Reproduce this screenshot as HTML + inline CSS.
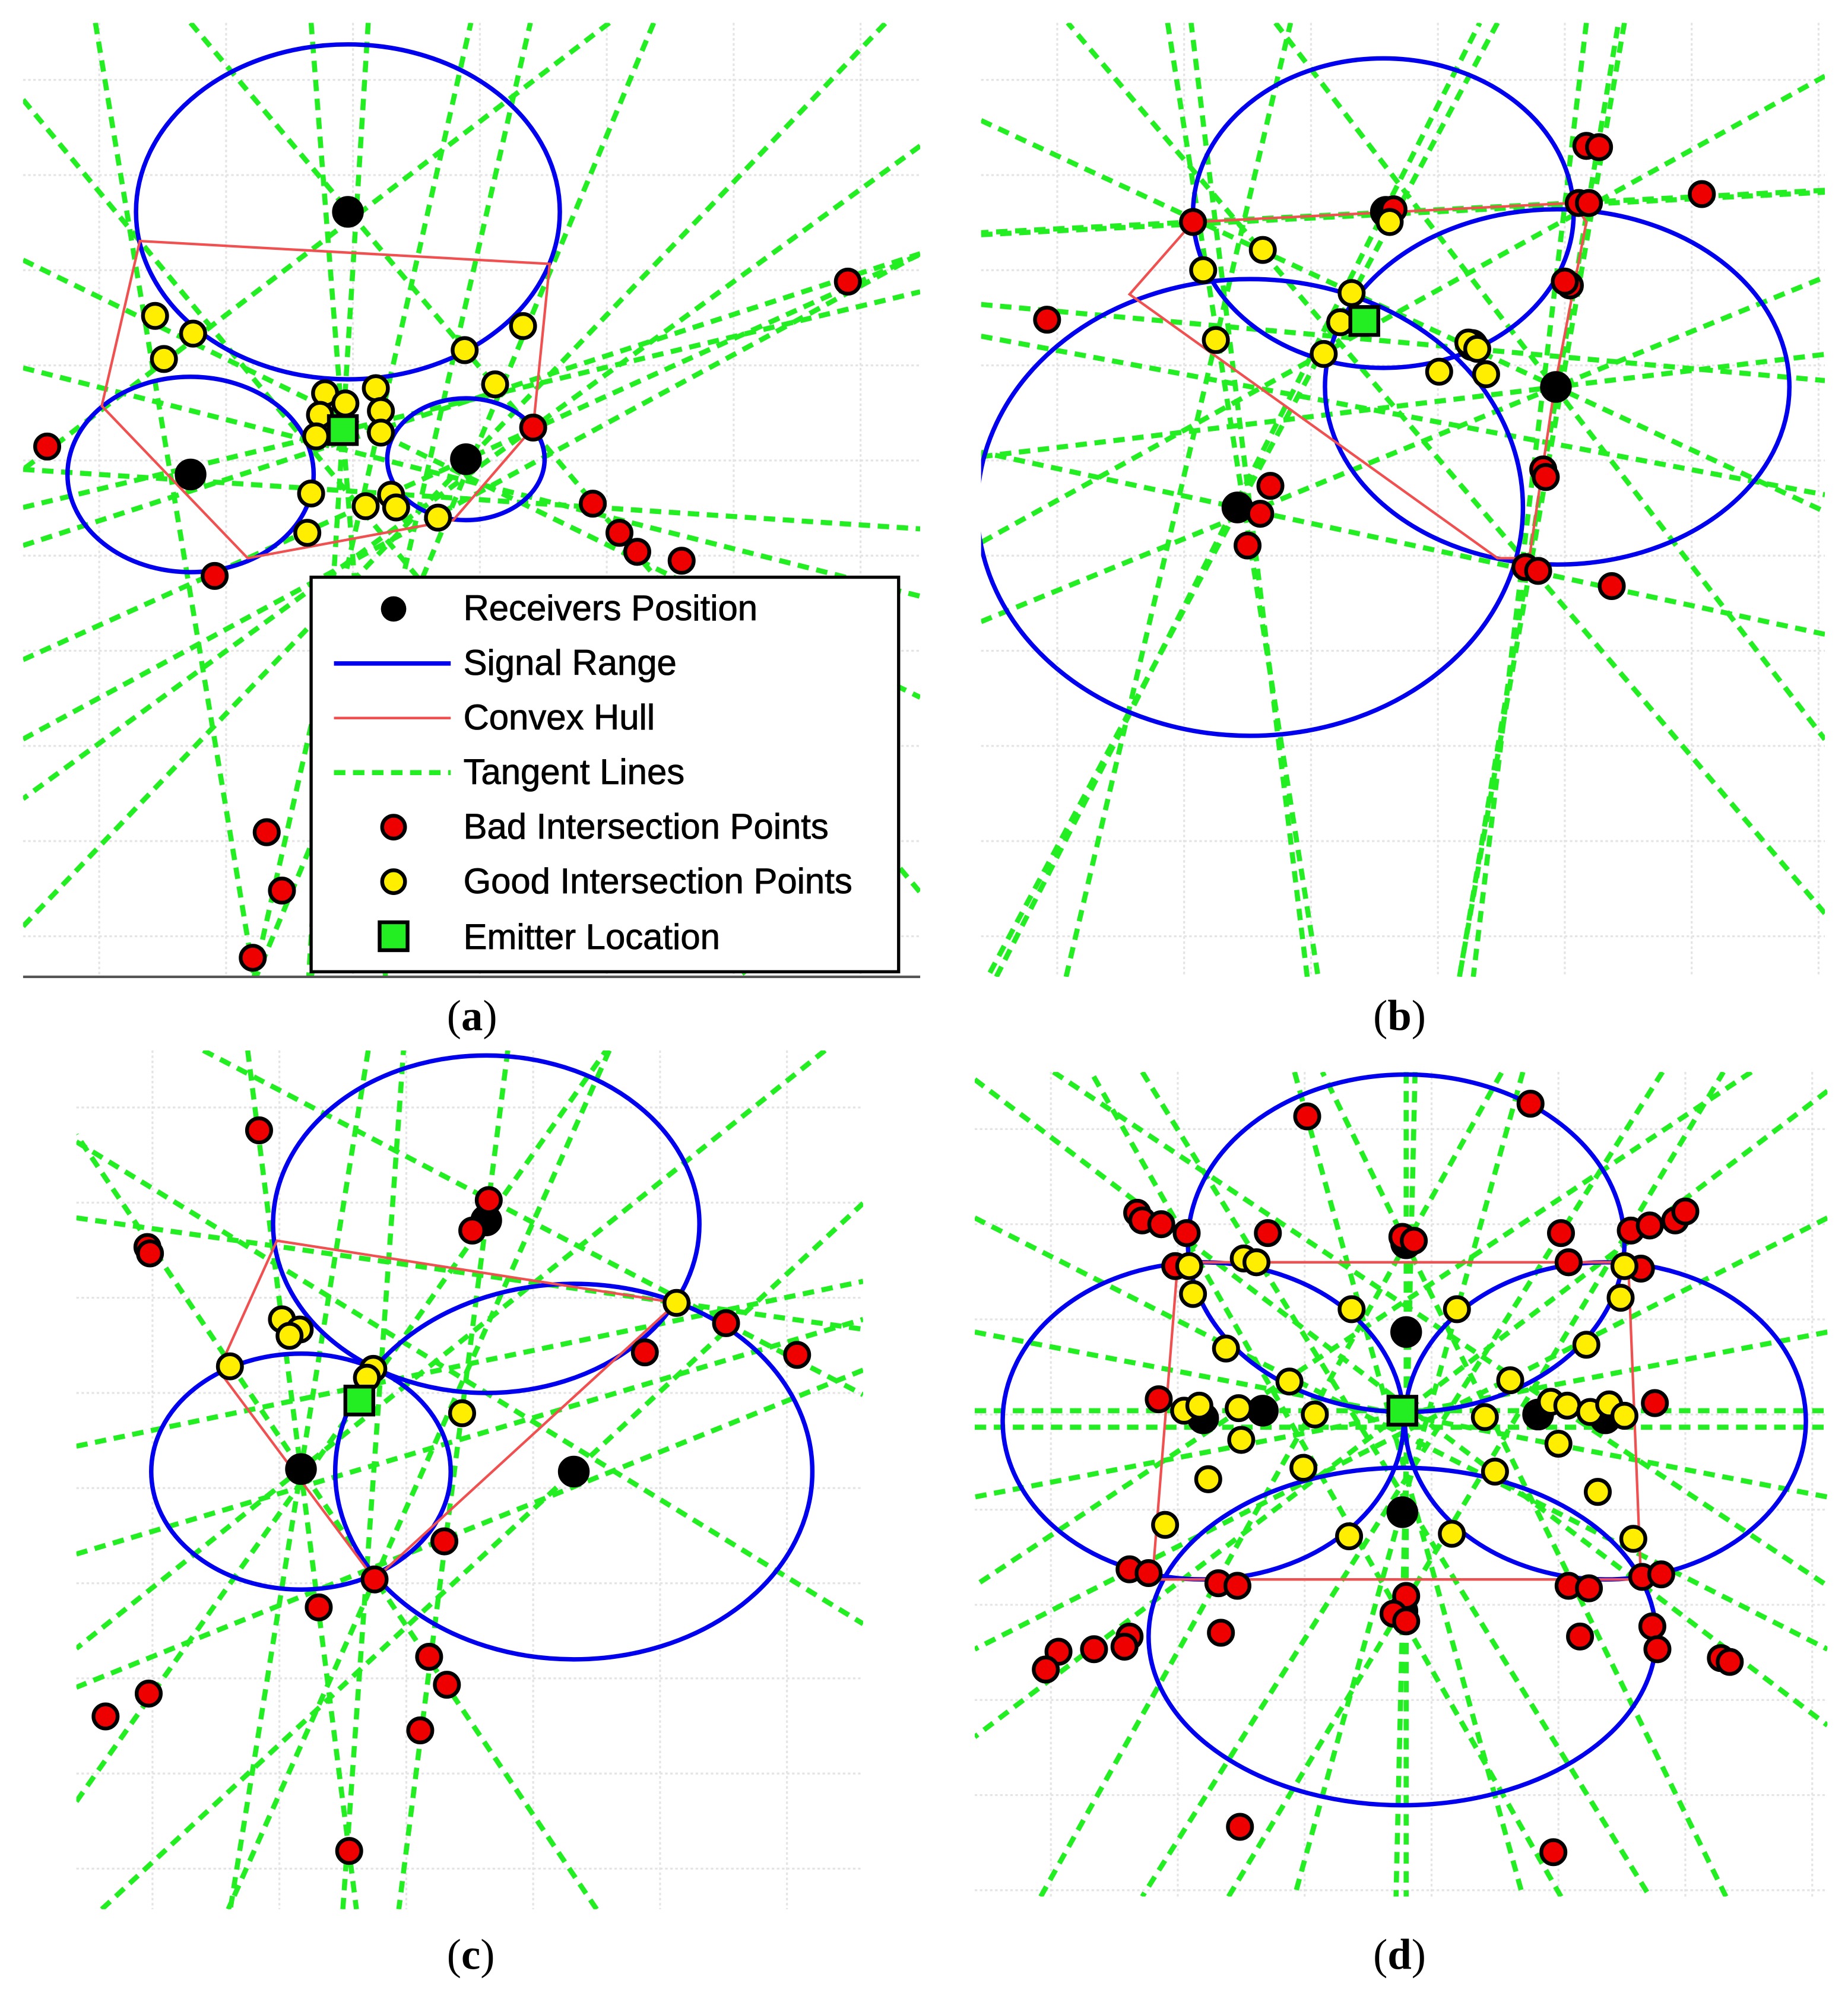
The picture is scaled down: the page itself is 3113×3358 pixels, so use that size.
<!DOCTYPE html>
<html><head><meta charset="utf-8">
<style>
html,body{margin:0;padding:0;background:#fff;width:3113px;height:3358px;overflow:hidden;}
svg{display:block;overflow:hidden;}
.lab{font-family:"Liberation Serif",serif;font-size:34px;fill:#000;}
.leg{font-family:"Liberation Sans",sans-serif;font-size:28px;fill:#000;stroke:#000;stroke-width:0.4;}
</style></head>
<body>
<svg id="s" width="3113" height="3358" viewBox="0 0 1456 1571" xmlns="http://www.w3.org/2000/svg">
<defs>
<clipPath id="ca"><rect x="18" y="18" width="707" height="752"/></clipPath>
<clipPath id="cb"><rect x="773" y="18" width="665" height="752"/></clipPath>
<clipPath id="cc"><rect x="60" y="828" width="620" height="677"/></clipPath>
<clipPath id="cd"><rect x="768" y="845" width="672" height="650"/></clipPath>
</defs>
<g id="grid" stroke="#e4e4e4" stroke-width="1.5" stroke-dasharray="2 2"></g>
<g id="lines" stroke="#22ee22" stroke-width="4" stroke-dasharray="9 6" fill="none"></g>
<g id="shapes" fill="none"></g>
<g id="pts" stroke="#000" stroke-width="3"></g>
<line x1="18" y1="770" x2="725" y2="770" stroke="#555" stroke-width="2"/>
<g id="legend">
<rect x="245" y="455" width="463" height="311" fill="#fff" stroke="#000" stroke-width="2.5"/>
<circle cx="310" cy="480" r="10" fill="#000"/>
<text class="leg" x="365" y="489">Receivers Position</text>
<line x1="263" y1="523" x2="355" y2="523" stroke="#0000ee" stroke-width="3.5"/>
<text class="leg" x="365" y="532">Signal Range</text>
<line x1="263" y1="566" x2="355" y2="566" stroke="#f05050" stroke-width="2"/>
<text class="leg" x="365" y="575">Convex Hull</text>
<line x1="263" y1="609" x2="355" y2="609" stroke="#22ee22" stroke-width="4" stroke-dasharray="9 6"/>
<text class="leg" x="365" y="618">Tangent Lines</text>
<circle cx="310" cy="652" r="9" fill="#ee0000" stroke="#000" stroke-width="3"/>
<text class="leg" x="365" y="661">Bad Intersection Points</text>
<circle cx="310" cy="695" r="9" fill="#ffee00" stroke="#000" stroke-width="3"/>
<text class="leg" x="365" y="704">Good Intersection Points</text>
<rect x="299" y="727" width="22" height="22" fill="#22ee22" stroke="#000" stroke-width="3"/>
<text class="leg" x="365" y="748">Emitter Location</text>
</g>
<text class="lab" x="352" y="812">(<tspan font-weight="bold">a</tspan>)</text>
<text class="lab" x="1082" y="812">(<tspan font-weight="bold">b</tspan>)</text>
<text class="lab" x="352" y="1552">(<tspan font-weight="bold">c</tspan>)</text>
<text class="lab" x="1082" y="1552">(<tspan font-weight="bold">d</tspan>)</text>
</svg>
<script>
const NS="http://www.w3.org/2000/svg";
function el(p,t,a){const e=document.createElementNS(NS,t);for(const k in a)e.setAttribute(k,a[k]);p.appendChild(e);return e;}
const G=id=>document.getElementById(id);
const panels=[
 {c:"ca",r:[18,18,725,770],
  ell:[[274,167,167,132],[150,374,97,77],[367,362,62,48]],
  hull:[[110,190],[433,208],[420,337],[357,410],[195,440],[80,320]],
  rec:[[274,167],[150,374],[367,362]],em:[270,339],
  lines:[[75,18,200,770],[150,18,275,167],[245,18,270,339],[290,18,270,339],[515,18,360,390],[480,18,110,300],[725,115,420,337],[725,200,300,430],[18,205,500,440],[18,290,725,470],[18,520,195,440],[18,400,725,230],[18,430,725,200],[200,770,300,330],[245,770,330,400],[295,440,400,330],[18,370,470,400],[110,190,300,420]],
  red:[[668,222],[37,352],[420,337],[169,454],[467,397],[488,420],[502,435],[537,442],[210,656],[222,702],[199,755]],
  yel:[[122,249],[152,263],[129,283],[366,276],[412,257],[390,303],[256,310],[272,318],[296,306],[252,327],[300,324],[300,341],[249,344],[245,389],[242,420],[288,399],[308,390],[312,400],[345,408]]},
 {c:"cb",r:[773,18,1438,770],
  ell:[[1090,168,150,122],[985,400,215,180],[1227,305,183,140]],
  hull:[[940,175],[1240,160],[1250,175],[1225,305],[1205,440],[1180,440],[890,232]],
  rec:[[1092,167],[1226,305],[975,400],[1160,272]],em:[1075,253],
  lines:[[920,18,985,430],[1005,18,1225,305],[1180,18,1040,280],[1250,18,1200,440],[1280,18,1150,770],[1438,60,1040,280],[1438,150,940,175],[773,95,1226,305],[773,185,1270,160],[773,265,1438,390],[773,360,1226,305],[773,490,1226,305],[785,770,1090,168],[840,770,960,260],[1030,770,985,400],[1150,770,1260,110],[1438,720,1200,440],[1438,500,975,400],[773,240,1438,300]],
  red:[[940,175],[1250,115],[1260,116],[1244,160],[1252,160],[1341,153],[1098,165],[1237,225],[1233,222],[825,252],[1216,370],[1218,376],[1001,383],[993,405],[983,430],[1202,447],[1212,450],[1270,462]],
  yel:[[995,197],[948,213],[958,268],[1065,231],[1056,254],[1043,279],[1095,175],[1157,270],[1164,275],[1134,293],[1171,295]]},
 {c:"cc",r:[60,828,680,1505],
  ell:[[383,965,168,133],[237,1160,118,93],[452,1160,188,148]],
  hull:[[218,978],[533,1027],[295,1245],[172,1080]],
  rec:[[383,962],[237,1158],[452,1160]],em:[283,1104],
  lines:[[195,828,275,1460],[290,828,237,1158],[400,828,383,962],[480,828,295,1245],[650,828,237,1158],[60,900,680,1280],[60,960,533,1027],[60,1140,680,1010],[60,1225,680,1040],[60,1420,383,962],[80,1505,452,1160],[270,1505,300,1080],[470,1505,237,1158],[680,1080,60,1330],[160,828,572,1043]],
  red:[[204,891],[116,983],[118,988],[385,946],[372,970],[572,1043],[628,1068],[508,1066],[350,1215],[295,1245],[251,1267],[338,1306],[352,1328],[331,1364],[117,1335],[83,1353],[275,1459]],
  yel:[[533,1027],[222,1040],[236,1048],[228,1053],[181,1077],[294,1079],[289,1086],[364,1114]]},
 {c:"cd",r:[768,845,1440,1495],
  ell:[[1108,980,172,133],[1105,1290,200,133],[948,1120,158,125],[1265,1120,158,125]],
  hull:[[928,995],[1283,995],[1293,1245],[908,1245]],
  rec:[[1108,980],[1105,1192],[1105,1270],[948,1118],[995,1112],[1212,1115],[1265,1118],[1108,1050]],em:[1105,1112],
  lines:[[1108,845,1108,1495],[1115,845,1100,1495],[768,1112,1440,1112],[768,1125,1440,1125],[780,860,1440,1360],[1440,860,780,1360],[900,845,1300,1495],[1310,845,900,1495],[1020,845,1200,1495],[1200,845,1020,1495],[768,960,1440,1300],[1440,960,768,1300],[768,1050,1440,1180],[1440,1050,768,1180],[830,845,1440,1250],[1380,845,768,1250],[820,1495,1108,980],[1360,1495,1108,980],[968,1495,1265,1000],[1230,1495,948,1000]],
  red:[[1030,880],[1206,870],[896,956],[900,962],[915,965],[935,972],[999,972],[1105,975],[1114,978],[1230,972],[1285,970],[1300,966],[1320,962],[1328,955],[926,998],[1236,995],[1293,1000],[913,1103],[1304,1106],[890,1237],[905,1240],[960,1248],[975,1250],[1236,1250],[1252,1252],[1294,1243],[1309,1241],[1108,1258],[1098,1272],[1108,1278],[962,1287],[1245,1290],[1302,1282],[1306,1300],[890,1290],[886,1298],[862,1300],[834,1302],[824,1316],[1356,1307],[1363,1310],[977,1440],[1224,1460]],
  yel:[[980,992],[990,995],[937,998],[1280,998],[940,1020],[1277,1023],[1065,1032],[1148,1032],[966,1063],[1250,1060],[1016,1089],[1190,1088],[933,1112],[945,1108],[976,1110],[1036,1115],[1170,1117],[1222,1105],[1235,1108],[1253,1113],[1268,1107],[1280,1116],[978,1135],[1228,1138],[1027,1157],[1178,1160],[952,1166],[1259,1176],[918,1202],[1063,1211],[1144,1209],[1287,1213]]}
];
function clip(x0,y0,dx,dy,r){
 let t0=-1e9,t1=1e9;
 const P=[-dx,dx,-dy,dy],Q=[x0-r[0],r[2]-x0,y0-r[1],r[3]-y0];
 for(let i=0;i<4;i++){
  if(P[i]===0){if(Q[i]<0)return null;continue;}
  const t=Q[i]/P[i];
  if(P[i]<0){if(t>t0)t0=t;}else{if(t<t1)t1=t;}
 }
 if(t0>t1)return null;
 return [x0+dx*t0,y0+dy*t0,x0+dx*t1,y0+dy*t1];
}
const grid=G("grid"),lines=G("lines"),shapes=G("shapes"),pts=G("pts");
panels.forEach(p=>{
 const [x0,y0,x1,y1]=p.r;
 const gg=el(grid,"g",{});
 for(let x=x0+60;x<x1;x+=100)el(gg,"line",{x1:x,y1:y0,x2:x,y2:y1});
 for(let y=y0+45;y<y1;y+=75)el(gg,"line",{x1:x0,y1:y,x2:x1,y2:y});
 const lg=el(lines,"g",{"clip-path":"url(#"+p.c+")"});
 p.lines.forEach(l=>{
  const c=clip(l[0],l[1],l[2]-l[0],l[3]-l[1],p.r);
  if(c)el(lg,"line",{x1:c[0].toFixed(1),y1:c[1].toFixed(1),x2:c[2].toFixed(1),y2:c[3].toFixed(1)});
 });
 const sg=el(shapes,"g",{"clip-path":"url(#"+p.c+")"});
 p.ell.forEach(e=>el(sg,"ellipse",{cx:e[0],cy:e[1],rx:e[2],ry:e[3],stroke:"#0000ee","stroke-width":3.5}));
 el(sg,"polygon",{points:p.hull.map(q=>q.join(",")).join(" "),stroke:"#f05050","stroke-width":2});
 p.rec.forEach(q=>el(pts,"circle",{cx:q[0],cy:q[1],r:11,fill:"#000"}));
 p.red.forEach(q=>el(pts,"circle",{cx:q[0],cy:q[1],r:9.5,fill:"#ee0000"}));
 p.yel.forEach(q=>el(pts,"circle",{cx:q[0],cy:q[1],r:9.5,fill:"#ffee00"}));
 el(pts,"rect",{x:p.em[0]-11,y:p.em[1]-11,width:22,height:22,fill:"#22ee22"});
});
G("s").appendChild(G("legend"));
</script>
</body></html>
